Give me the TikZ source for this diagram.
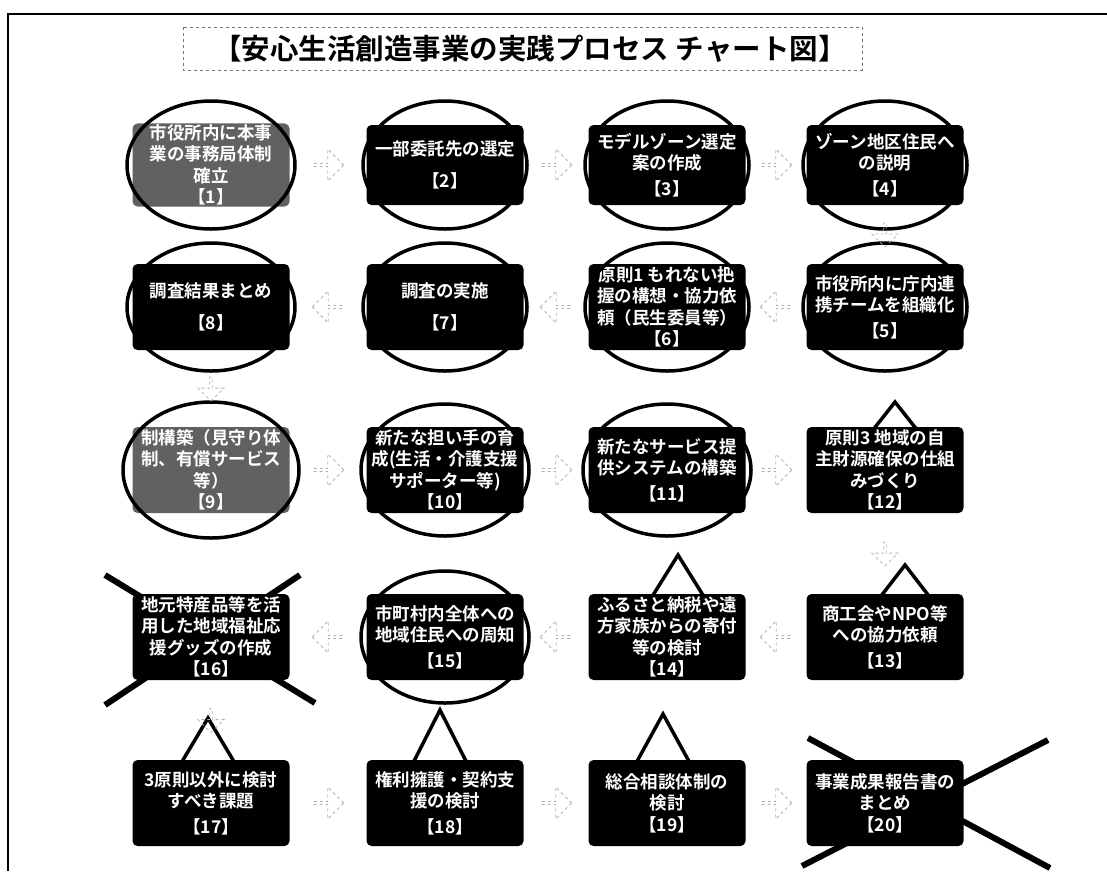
\documentclass[tikz,border=0pt]{standalone}
\usepackage{fontspec}
\setmainfont{Noto Sans CJK JP}[BoldFont={Noto Sans CJK JP Bold}]
\usetikzlibrary{shapes.arrows}
\begin{document}
\begin{tikzpicture}[x=1pt,y=-1pt,
  box/.style={rectangle,rounded corners=5pt,fill=black,text=white,minimum width=157pt,minimum height=86pt,align=center,inner sep=1pt,font=\fontsize{17.5}{21.5}\selectfont\bfseries},
  graybox/.style={box,fill=black!62},
  ring/.style={draw=black,line width=3.5pt},
  tri/.style={draw=black,line width=3.5pt,line join=miter},
  cross/.style={draw=black,line width=6pt},
  barrow/.style={single arrow,draw=black!30,dashed,line width=0.8pt,minimum width=32pt,single arrow head extend=4pt,minimum height=30pt,inner sep=0pt},
  rarrow/.style={barrow},
  larrow/.style={barrow,shape border rotate=180},
  darrow/.style={barrow,shape border rotate=270,minimum height=24pt,minimum width=26pt}]
\useasboundingbox (0,0) rectangle (1107,871);
% frame
\draw[line width=2pt] (8,871) -- (8,14) -- (1107,14);
% title
\draw[black!55,dashed,line width=0.8pt] (183,27) rectangle (862,70);
\node[font=\fontsize{28.5}{31}\selectfont\bfseries] (title) at (530,49) {【安心生活創造事業の実践プロセス\ チャート図】};
% triangles and crosses (behind boxes)
\draw[tri] (865,440) -- (895,402) -- (925,440);
\draw[tri] (650,600) -- (678,555) -- (706,600);
\draw[tri] (878,600) -- (905,565) -- (932,600);
\draw[tri] (180,765) -- (208,718) -- (236,765);
\draw[tri] (412,765) -- (440,710) -- (468,765);
\draw[tri] (635,765) -- (663,714) -- (691,765);
\draw[cross] (105,575) -- (315,703);
\draw[cross] (300,575) -- (105,705);
\draw[cross] (808,738) -- (1050,868);
\draw[cross] (1048,740) -- (802,866);
% boxes
\node[graybox,minimum height=80pt] (b1) at (211,165) {市役所内に本事\\業の事務局体制\\確立\\【1】};
\node[box,minimum height=80pt] (b2) at (445,165) {一部委託先の選定\\[10pt]【2】};
\node[box,minimum height=80pt] (b3) at (667,165) {モデルゾーン選定\\案の作成\\[4pt]【3】};
\node[box,minimum height=80pt] (b4) at (885,165) {ゾーン地区住民へ\\の説明\\[4pt]【4】};
\node[box] (b8) at (211,307) {調査結果まとめ\\[10pt]【8】};
\node[box] (b7) at (445,307) {調査の実施\\[10pt]【7】};
\node[box] (b6) at (667,307) {原則1 もれない把\\握の構想・協力依\\頼（民生委員等）\\【6】};
\node[box] (b5) at (885,307) {市役所内に庁内連\\携チームを組織化\\[4pt]【5】};
\node[graybox] (b9) at (211,470) {制構築（見守り体\\制、有償サービス\\等）\\【9】};
\node[box] (b10) at (445,470) {新たな担い手の育\\成(生活・介護支援\\サポーター等)\\【10】};
\node[box] (b11) at (667,470) {新たなサービス提\\供システムの構築\\[4pt]【11】};
\node[box] (b12) at (885,470) {原則3 地域の自\\主財源確保の仕組\\みづくり\\【12】};
\node[box] (b16) at (211,637) {地元特産品等を活\\用した地域福祉応\\援グッズの作成\\【16】};
\node[box] (b15) at (445,637) {市町村内全体への\\地域住民への周知\\[4pt]【15】};
\node[box] (b14) at (667,637) {ふるさと納税や遠\\方家族からの寄付\\等の検討\\【14】};
\node[box] (b13) at (885,637) {商工会やNPO等\\への協力依頼\\[4pt]【13】};
\node[box] (b17) at (211,803) {3原則以外に検討\\すべき課題\\[4pt]【17】};
\node[box] (b18) at (445,803) {権利擁護・契約支\\援の検討\\[4pt]【18】};
\node[box] (b19) at (667,803) {総合相談体制の\\検討\\【19】};
\node[box] (b20) at (885,803) {事業成果報告書の\\まとめ\\【20】};
% rings
\draw[ring] (b1) ellipse [x radius=84pt, y radius=64pt];
\draw[ring] (b2) ellipse [x radius=82pt, y radius=64pt];
\draw[ring] (b3) ellipse [x radius=82pt, y radius=64pt];
\draw[ring] (b4) ellipse [x radius=82pt, y radius=64pt];
\draw[ring] (b8) ellipse [x radius=84pt, y radius=64pt];
\draw[ring] (b7) ellipse [x radius=82pt, y radius=64pt];
\draw[ring] (b6) ellipse [x radius=82pt, y radius=64pt];
\draw[ring] (b5) ellipse [x radius=82pt, y radius=64pt];
\draw[ring] (b9) ellipse [x radius=88pt, y radius=68pt];
\draw[ring] (b10) ellipse [x radius=84pt, y radius=66pt];
\draw[ring] (b11) ellipse [x radius=84pt, y radius=66pt];
\draw[ring] (b15) ellipse [x radius=84pt, y radius=66pt];
% flow arrows
\path (b1) -- node[rarrow]{} (b2);
\path (b2) -- node[rarrow]{} (b3);
\path (b3) -- node[rarrow]{} (b4);
\path (b4) -- node[darrow]{} (b5);
\path (b5) -- node[larrow]{} (b6);
\path (b6) -- node[larrow]{} (b7);
\path (b7) -- node[larrow]{} (b8);
\path (b8) -- node[darrow]{} (b9);
\path (b9) -- node[rarrow]{} (b10);
\path (b10) -- node[rarrow]{} (b11);
\path (b11) -- node[rarrow]{} (b12);
\path (b12) -- node[darrow]{} (b13);
\path (b13) -- node[larrow]{} (b14);
\path (b14) -- node[larrow]{} (b15);
\path (b15) -- node[larrow]{} (b16);
\path (b16) -- node[darrow]{} (b17);
\path (b17) -- node[rarrow]{} (b18);
\path (b18) -- node[rarrow]{} (b19);
\path (b19) -- node[rarrow]{} (b20);
\end{tikzpicture}
\end{document}
